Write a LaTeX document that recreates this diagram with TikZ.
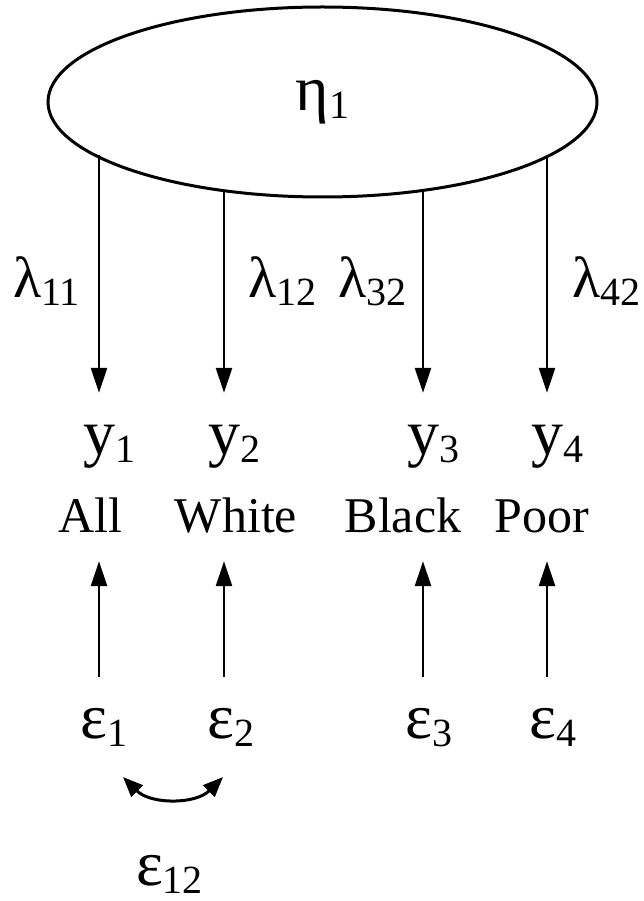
\documentclass[tikz,border=0pt]{standalone}
\usepackage{fontspec}
\setmainfont{Liberation Serif}
\usetikzlibrary{shapes.geometric,arrows.meta}
\newcommand\gk{\fontsize{64}{64}\selectfont}
\newcommand\gl{\fontsize{58}{58}\selectfont}
\newcommand\lab{\fontsize{50}{50}\selectfont}
\newcommand\sbs[1]{\raisebox{-8pt}{\fontsize{40}{40}\selectfont #1}}
\begin{document}
\begin{tikzpicture}[x=1pt,y=-1pt,
  gtxt/.style={inner sep=0pt, anchor=base, font=\gk},
  ltxt/.style={inner sep=0pt, font=\gl},
  wtxt/.style={inner sep=0pt, anchor=base, font=\lab, text depth=29pt},
  arr/.style={line width=2.5pt, -{Triangle[length=25pt,width=16pt]}},
  dbl/.style={line width=3pt, {Triangle[length=20pt,width=16pt]}-{Triangle[length=20pt,width=16pt]}}]
\useasboundingbox (0,0) rectangle (644,901);
% latent variable
\node[draw, ellipse, line width=3pt, minimum width=549pt, minimum height=190pt,
      inner sep=0pt, font=\gk] (eta) at (322.5,102) {η\sbs{1}};
\coordinate (s1) at (99,155);
\coordinate (s2) at (224,190.5);
\coordinate (s3) at (423,190.5);
\coordinate (s4) at (547,156.5);
% indicators
\node[gtxt, text height=61pt] (y1) at (99,454) {y\rlap{\sbs{1}}};
\node[gtxt, text height=61pt] (y2) at (224,454) {y\rlap{\sbs{2}}};
\node[gtxt, text height=61pt] (y3) at (423,454) {y\rlap{\sbs{3}}};
\node[gtxt, text height=61pt] (y4) at (547,454) {y\rlap{\sbs{4}}};
% group labels
\node[wtxt] (l1) at (90,532) {All};
\node[wtxt] (l2) at (236,532) {White};
\node[wtxt] (l3) at (403,532) {Black};
\node[wtxt] (l4) at (542,532) {Poor};
% loadings
\node[ltxt, anchor=base east] (L1) at (80,297) {λ\sbs{11}};
\node[ltxt, anchor=base west] (L2) at (248,297) {λ\sbs{12}};
\node[ltxt, anchor=base east] (L3) at (407,297) {λ\sbs{32}};
\node[ltxt, anchor=base west] (L4) at (572,297) {λ\sbs{42}};
% errors
\node[gtxt, text height=61pt] (e1) at (94,738) {ε\rlap{\sbs{1}}};
\node[gtxt, text height=61pt] (e2) at (221,738) {ε\rlap{\sbs{2}}};
\node[gtxt, text height=61pt] (e3) at (419,738) {ε\rlap{\sbs{3}}};
\node[gtxt, text height=61pt] (e4) at (543,738) {ε\rlap{\sbs{4}}};
\node[gtxt] (e12) at (149.5,885) {ε\rlap{\sbs{12}}};
% connectors
\draw[arr] (s1) -- (y1.north);
\draw[arr] (s2) -- (y2.north);
\draw[arr] (s3) -- (y3.north);
\draw[arr] (s4) -- (y4.north);
\draw[arr] (y1 |- e1.north) -- (y1 |- l1.south);
\draw[arr] (y2 |- e2.north) -- (y2 |- l2.south);
\draw[arr] (y3 |- e3.north) -- (y3 |- l3.south);
\draw[arr] (y4 |- e4.north) -- (y4 |- l4.south);
\coordinate (c1) at (123,777);
\coordinate (c2) at (223,777);
\draw[dbl] (c1) to[bend right=45] (c2);
\end{tikzpicture}
\end{document}
